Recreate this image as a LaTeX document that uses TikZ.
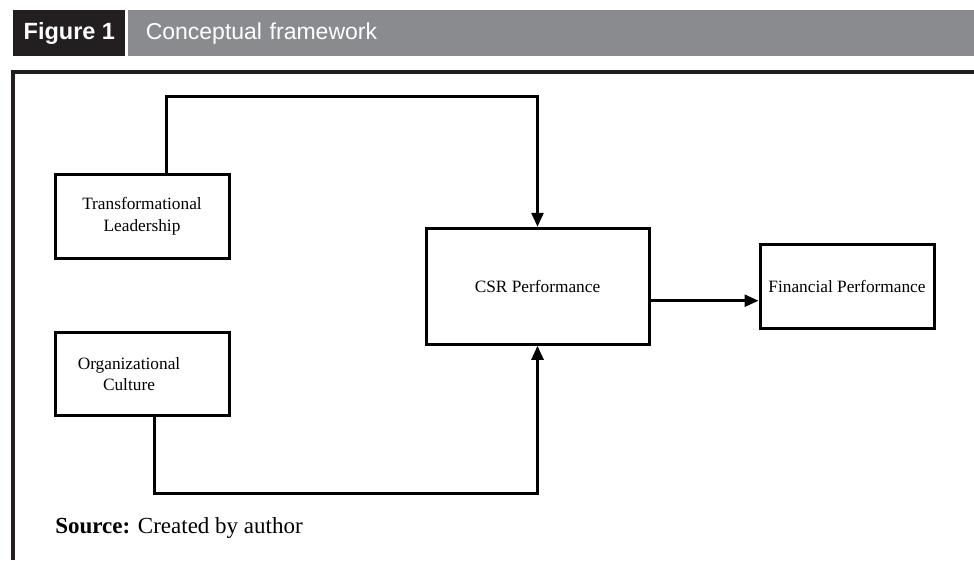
\documentclass[tikz,border=0pt]{standalone}
\usepackage{fontspec}
\setmainfont{Liberation Serif}
\newfontfamily\headfont{Liberation Sans}
\usepackage{tikz}
\usetikzlibrary{arrows.meta, positioning}

\definecolor{tagdark}{RGB}{35,31,32}
\definecolor{bargray}{RGB}{138,139,143}

\begin{document}
\begin{tikzpicture}[x=1pt, y=-1pt, auto, >={Stealth[length=14pt, width=12pt, inset=0pt]}, line width=2.7pt]
        \tikzstyle{block} = [draw, line width=3pt, rectangle, minimum width=174pt, minimum height=84pt, align=center, font=\fontsize{17.3}{21.3}\selectfont]
        \tikzstyle{head} = [inner ysep=0pt, minimum height=46pt, text=white, font=\headfont\fontsize{23}{26}\selectfont]
        \useasboundingbox (0,0) rectangle (974,560);

        % Cabecera de la figura
        \node [head, fill=tagdark, minimum width=112pt, anchor=north west, font=\headfont\bfseries\fontsize{23.5}{26}\selectfont] (tag) at (12,9) {Figure 1};
        \node [head, fill=bargray, right=0pt of tag, inner xsep=17.7pt, text width=814.6pt, align=left] (title) {Conceptual framework};

        % Marco
        \draw [tagdark, line width=3.8pt] (12.7,560) -- (12.7,71.7) -- (974,71.7);

        % Definición de nodos
        \node [block] (tl) at (142,216.3) {Transformational\\Leadership};
        \node [block, minimum height=83.3pt] (oc) at (142,374.3) {Organizational\hspace*{26pt}\\Culture\hspace*{26pt}};
        \node [block, minimum width=223pt, minimum height=116pt] (csr) at (537.5,286.3) {CSR Performance};
        \node [block, minimum height=83.6pt] (fp) at (847,286.5) {Financial Performance};

        % Conexiones
        \draw [->] ([xshift=24.7pt]tl.north) -- ++(0,-76) -| (csr.north);
        \draw [->] ([xshift=12.3pt]oc.south) -- ++(0,75.7) -| (csr.south);
        \draw [->] ([yshift=-14.4pt]csr.east) -- ([yshift=-14.4pt]csr.east -| fp.west);

        % Fuente
        \node [anchor=base west, inner sep=0pt, font=\fontsize{23}{26}\selectfont] (source) at (54,533.3) {\textbf{Source:} Created by author};

        \end{tikzpicture}
\end{document}
